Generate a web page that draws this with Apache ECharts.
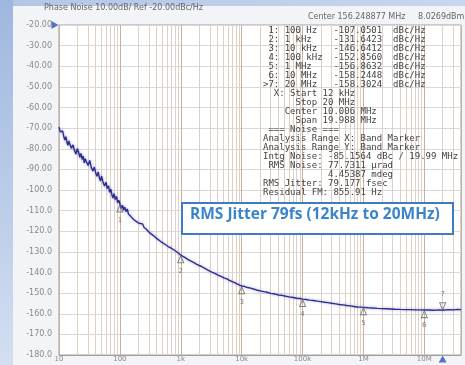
<!DOCTYPE html>
<html>
<head>
<meta charset="utf-8">
<script src="https://cdn.jsdelivr.net/npm/echarts@6/dist/echarts.min.js"></script>
<style>
  html, body { margin: 0; padding: 0; background: #f4f5f8; }
  #chart { width: 465px; height: 365px; }
</style>
</head>
<body>
<div id="chart"></div>
<script>
// trace: offset frequency (Hz) and phase noise (dBc/Hz)
const traceFreqs = [
  10, 10.5, 11, 11.5, 12, 12.5, 13, 13.5, 14, 14.5, 15, 16, 17, 18, 19, 20, 21, 22, 23, 24, 25, 26, 27, 28, 30,
  32, 34, 36, 38, 40, 42, 44, 46, 48, 50, 53, 56, 59, 62, 65, 68, 71, 74, 77, 80, 84, 88, 92, 96, 100,
  105, 110, 115, 120, 126, 132, 138, 145, 152, 160, 168, 176, 185, 195, 205, 220, 235, 250, 270, 290,
  310, 330, 355, 380, 410, 440, 470, 500, 540, 580, 620, 670, 720, 780, 840, 900, 960, 1000,
  1100, 1200, 1300, 1400, 1500, 1650, 1800, 2000, 2200, 2400, 2700, 3000, 3300, 3700, 4100, 4600,
  5100, 5700, 6300, 7000, 7800, 8700, 10000, 11000, 12500, 14000, 16000, 18000, 20000, 23000, 26000,
  30000, 35000, 40000, 46000, 53000, 60000, 70000, 80000, 90000, 100000, 115000, 130000, 150000,
  175000, 200000, 230000, 260000, 300000, 350000, 400000, 460000, 530000, 600000, 700000, 800000,
  900000, 1e6, 1.2e6, 1.4e6, 1.7e6, 2e6, 2.4e6, 2.8e6, 3.3e6, 4e6, 5e6, 6e6, 7e6, 8.5e6, 1e7,
  1.2e7, 1.4e7, 1.6e7, 1.8e7, 2e7, 2.1e7, 2.5e7, 3e7, 3.5e7, 4e7
];
const traceValues = [
  -69.5, -71.8, -72.6, -71.4, -74.2, -75.8, -74.1, -76.9, -78.3, -76.2, -77.6, -79.8, -78.1, -80.9, -82.6, -79.9, -81.7, -84.1, -82.3, -85.2, -83.6, -86.8, -84.9, -86.2, -88.1,
  -85.7, -89.3, -90.8, -88.9, -91.6, -93.4, -91.2, -94.1, -95.6, -93.3, -96.4, -98.1, -96.2, -99.3, -98.0, -101.2, -99.6, -102.4, -103.9, -101.8, -104.6, -103.1, -106.2, -105.0, -106.8,
  -108.9, -107.4, -109.7, -108.3, -110.5, -109.2, -111.6, -110.8, -112.9, -112.1, -114.3, -113.6, -115.2, -114.7, -116.1, -116.9, -116.4, -118.2, -118.9, -119.6,
  -120.8, -120.3, -122.1, -122.6, -123.7, -123.4, -125.0, -125.3, -126.2, -126.0, -127.4, -127.9, -128.7, -129.1, -130.0, -130.4, -131.1, -131.6,
  -132.3, -132.9, -133.6, -133.9, -134.6, -135.2, -135.9, -136.6, -137.1, -137.8, -138.6, -139.3, -139.9, -140.6, -141.3, -141.9,
  -142.6, -143.1, -143.8, -144.4, -145.0, -145.7, -146.6, -146.7, -147.3, -147.6, -148.1, -148.6, -148.9, -149.3, -149.6,
  -150.1, -150.4, -150.9, -151.1, -151.5, -151.8, -152.1, -152.5, -152.6, -152.9, -153.1, -153.4, -153.6,
  -153.9, -154.1, -154.4, -154.6, -154.9, -155.2, -155.5, -155.7, -156.0, -156.2, -156.5, -156.7,
  -156.8, -156.9, -157.1, -157.2, -157.4, -157.5, -157.6, -157.7, -157.8, -157.9, -158.0, -158.0, -158.1, -158.1, -158.2,
  -158.2, -158.3, -158.2, -158.1, -158.3, -157.6, -158.0, -158.1, -157.9, -158.0
];

// marker table
const markerIds = ['1', '2', '3', '4', '5', '6', '7'];
const markerFreqLabels = ['100 Hz', '1 kHz', '10 kHz', '100 kHz', '1 MHz', '10 MHz', '20 MHz'];
const markerFreqs = [100, 1e3, 1e4, 1e5, 1e6, 1e7, 2e7];
const markerValues = [-107.0501, -131.6423, -146.6412, -152.8560, -156.8632, -158.2448, -158.3024];

const noiseLines = [
  '  X: Start 12 kHz',
  '      Stop 20 MHz',
  '    Center 10.006 MHz',
  '      Span 19.988 MHz',
  ' === Noise ===',
  'Analysis Range X: Band Marker',
  'Analysis Range Y: Band Marker',
  'Intg Noise: -85.1564 dBc / 19.99 MHz',
  ' RMS Noise: 77.7311 µrad',
  '            4.45387 mdeg',
  'RMS Jitter: 79.177 fsec',
  'Residual FM: 855.91 Hz'
];

// axis labels
const xDecadeLabels = ['10', '100', '1k', '10k', '100k', '1M', '10M'];
const yMin = -180, yMax = -20, yStep = 10;

const titleText = 'Phase Noise 10.00dB/ Ref -20.00dBc/Hz';
const centerText = 'Center 156.248877 MHz';
const powerText = '8.0269dBm';
const noteText = 'RMS Jitter 79fs (12kHz to 20MHz)';

// table text
let tableLines = markerIds.map((id, i) => {
    let head = (i === markerIds.length - 1 ? '>' : ' ') + id + ': ';
    return head + markerFreqLabels[i].padEnd(9) + markerValues[i].toFixed(4).padStart(9) + '  dBc/Hz';
});
tableLines = tableLines.concat(noiseLines);

// minor log grid (2..9 of each decade)
let minorLines = [];
for (let d = 10; d < 4e7; d *= 10) {
    for (let m = 2; m <= 9; m++) {
        if (d * m < 4e7) minorLines.push({ xAxis: d * m });
    }
}

const chart = echarts.init(document.getElementById('chart'));
chart.setOption({
    animation: false,
    grid: {
        left: 59, right: 4, top: 25, bottom: 10,
        show: true, backgroundColor: '#ffffff', borderColor: '#a0a0a0', borderWidth: 1
    },
    xAxis: {
        type: 'log', logBase: 10, min: 10, max: 4e7,
        axisLine: { show: true, lineStyle: { color: '#a0a0a0' } },
        axisTick: { show: false },
        splitLine: { show: true, lineStyle: { color: '#c9b09e', width: 1 } },
        axisLabel: {
            fontSize: 7, color: '#8a8a8a', margin: 1, fontFamily: 'DejaVu Sans',
            formatter: (v) => {
                let e = Math.log10(v);
                let k = Math.round(e);
                if (Math.abs(e - k) > 1e-6) return '';
                return xDecadeLabels[k - 1] || '';
            }
        }
    },
    yAxis: {
        type: 'value', min: yMin, max: yMax, interval: yStep,
        axisLine: { show: false },
        axisTick: { show: false },
        splitLine: { show: true, lineStyle: { color: '#d9d9d9' } },
        axisLabel: {
            fontSize: 8, color: '#8a8a8a', margin: 7, fontFamily: 'DejaVu Sans',
            formatter: (v) => v >= -90 ? v.toFixed(2) : v.toFixed(1)
        }
    },
    series: [
        {
            type: 'line',
            data: traceFreqs.map((f, i) => [f, traceValues[i]]),
            symbol: 'none',
            lineStyle: { color: '#30308c', width: 1.4, shadowColor: 'rgba(90,90,210,0.55)', shadowBlur: 3 },
            z: 3,
            markLine: {
                silent: true, symbol: 'none', animation: false,
                label: { show: false },
                lineStyle: { color: '#dfd0c3', width: 1, type: 'solid' },
                data: minorLines,
                z: 1
            }
        },
        {
            // markers 1..6, delta below the trace
            type: 'scatter',
            data: markerFreqs.slice(0, 6).map((f, i) => [f, markerValues[i]]),
            symbol: 'triangle', symbolSize: [6, 7], symbolOffset: [0, 4],
            itemStyle: { color: 'rgba(255,255,255,0)', borderColor: '#666', borderWidth: 1 },
            label: {
                show: true, position: 'bottom', distance: 4, fontSize: 7, color: '#666',
                fontFamily: 'DejaVu Sans',
                formatter: (p) => markerIds[p.dataIndex]
            },
            z: 4
        },
        {
            // active marker 7, above the trace
            type: 'scatter',
            data: [[markerFreqs[6], markerValues[6]]],
            symbol: 'triangle', symbolRotate: 180, symbolSize: [6, 7], symbolOffset: [0, -4],
            itemStyle: { color: 'rgba(255,255,255,0)', borderColor: '#666', borderWidth: 1 },
            label: {
                show: true, position: 'top', distance: 5, fontSize: 7, color: '#666',
                fontFamily: 'DejaVu Sans', formatter: markerIds[6]
            },
            z: 4
        },
        {
            // active marker position on the frequency axis and reference level arrow
            type: 'scatter',
            clip: false,
            data: [
                { value: [markerFreqs[6], yMin], symbolOffset: [0, 4] },
                { value: [10, yMax], symbolRotate: -90, symbolOffset: [-4, 0] }
            ],
            symbol: 'triangle', symbolSize: [8, 7],
            itemStyle: { color: '#2d4fb8' },
            z: 5
        }
    ],
    graphic: [
        {
            type: 'rect', z: -20, silent: true,
            shape: { x: 0, y: 0, width: 465, height: 365 },
            style: { fill: '#f3f4f7' }
        },
        {
            type: 'rect', z: -19, silent: true,
            shape: { x: 0, y: 0, width: 465, height: 6 },
            style: { fill: new echarts.graphic.LinearGradient(0, 0, 1, 0, [
                { offset: 0, color: '#b3c6e6' }, { offset: 1, color: '#c9d6ee' }]) }
        },
        {
            type: 'rect', z: -19, silent: true,
            shape: { x: 0, y: 0, width: 13, height: 365 },
            style: { fill: new echarts.graphic.LinearGradient(0, 0, 0, 1, [
                { offset: 0, color: '#9fb7df' }, { offset: 1, color: '#d3def1' }]) }
        },
        {
            type: 'text', left: 44, top: 4, z: 10, silent: true,
            style: { text: titleText, fontSize: 8, fill: '#666', fontFamily: 'DejaVu Sans' }
        },
        {
            type: 'text', left: 308, top: 13, z: 10, silent: true,
            style: { text: centerText, fontSize: 8, fill: '#666', fontFamily: 'DejaVu Sans' }
        },
        {
            type: 'text', left: 418, top: 13, z: 10, silent: true,
            style: { text: powerText, fontSize: 8, fill: '#666', fontFamily: 'DejaVu Sans' }
        },
        {
            type: 'text', left: 263, top: 26, z: 10, silent: true,
            style: {
                text: tableLines.join('\n'), fontSize: 9, lineHeight: 9,
                fill: '#444', fontFamily: 'DejaVu Sans Mono'
            }
        },
        {
            type: 'rect', left: 181, top: 202, z: 20, silent: true,
            shape: { x: 0, y: 0, width: 271, height: 31 },
            style: { fill: '#ffffff', stroke: '#3d7cc4', lineWidth: 2 }
        },
        {
            type: 'text', left: 190, top: 207, z: 21, silent: true,
            style: {
                text: noteText, fontSize: 15.5, fontWeight: 'bold', fill: '#3a84cb',
                stroke: null, lineWidth: 0,
                fontFamily: 'Open Sans'
            }
        }
    ]
});
</script>
</body>
</html>
